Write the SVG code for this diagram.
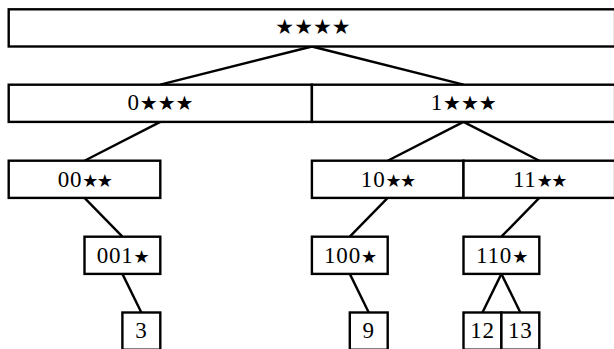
<svg xmlns="http://www.w3.org/2000/svg" width="614" height="349" viewBox="0 0 614 349">
<style>
rect{fill:#fff;stroke:#000;stroke-width:2.4}
.c line{stroke:#000;stroke-width:2.4}
text{font-family:"Liberation Serif","Times New Roman",serif;font-size:23px;letter-spacing:0.8px;text-anchor:middle;fill:#000}
.s1{font-family:"DejaVu Sans",sans-serif;font-size:21px;letter-spacing:0}
.s2{font-family:"DejaVu Sans",sans-serif;font-size:20px;letter-spacing:0}
.s3{font-family:"DejaVu Sans",sans-serif;font-size:18px;letter-spacing:-1.6px}
</style>
<g class="c">
<line x1="311.9" y1="46.5" x2="160.3" y2="84.7"/>
<line x1="311.9" y1="46.5" x2="463.5" y2="84.7"/>
<line x1="160.3" y1="121.9" x2="84.5" y2="160.7"/>
<line x1="463.5" y1="121.9" x2="387.7" y2="160.7"/>
<line x1="463.5" y1="121.9" x2="539.3" y2="160.7"/>
<line x1="84.5" y1="197.9" x2="122.4" y2="236.7"/>
<line x1="387.7" y1="197.9" x2="349.8" y2="236.7"/>
<line x1="539.3" y1="197.9" x2="501.4" y2="236.7"/>
<line x1="122.4" y1="273.9" x2="141.35" y2="312.5"/>
<line x1="349.8" y1="273.9" x2="368.75" y2="312.5"/>
<line x1="501.4" y1="273.9" x2="482.45" y2="312.5"/>
<line x1="501.4" y1="273.9" x2="520.35" y2="312.5"/>
</g>
<g id="n"><rect x="8.7" y="9.3" width="606.4" height="37.2"/><text x="313" y="34"><tspan class="s1">★★★★</tspan></text></g>
<g id="n0"><rect x="8.7" y="84.7" width="303.2" height="37.2"/><text x="160.5" y="110.3">0<tspan class="s2">★★★</tspan></text></g>
<g id="n1"><rect x="311.9" y="84.7" width="303.2" height="37.2"/><text x="463.7" y="110.3">1<tspan class="s2">★★★</tspan></text></g>
<g id="n00"><rect x="8.7" y="160.7" width="151.6" height="37.2"/><text x="84.5" y="187.3">00<tspan class="s3">★★</tspan></text></g>
<g id="n10"><rect x="311.9" y="160.7" width="151.6" height="37.2"/><text x="387.7" y="187.3">10<tspan class="s3">★★</tspan></text></g>
<g id="n11"><rect x="463.5" y="160.7" width="151.6" height="37.2"/><text x="539.3" y="187.3">11<tspan class="s3">★★</tspan></text></g>
<g id="n001"><rect x="84.5" y="236.7" width="75.8" height="37.2"/><text x="122.4" y="263.3">001<tspan class="s3">★</tspan></text></g>
<g id="n100"><rect x="311.9" y="236.7" width="75.8" height="37.2"/><text x="349.8" y="263.3">100<tspan class="s3">★</tspan></text></g>
<g id="n110"><rect x="463.5" y="236.7" width="75.8" height="37.2"/><text x="501.4" y="263.3">110<tspan class="s3">★</tspan></text></g>
<g id="l3"><rect x="122.4" y="312.5" width="37.9" height="37.2"/><text x="141.35" y="338.3">3</text></g>
<g id="l9"><rect x="349.8" y="312.5" width="37.9" height="37.2"/><text x="368.75" y="338.3">9</text></g>
<g id="l12"><rect x="463.5" y="312.5" width="37.9" height="37.2"/><text x="482.45" y="338.3">12</text></g>
<g id="l13"><rect x="501.4" y="312.5" width="37.9" height="37.2"/><text x="520.35" y="338.3">13</text></g>
</svg>
